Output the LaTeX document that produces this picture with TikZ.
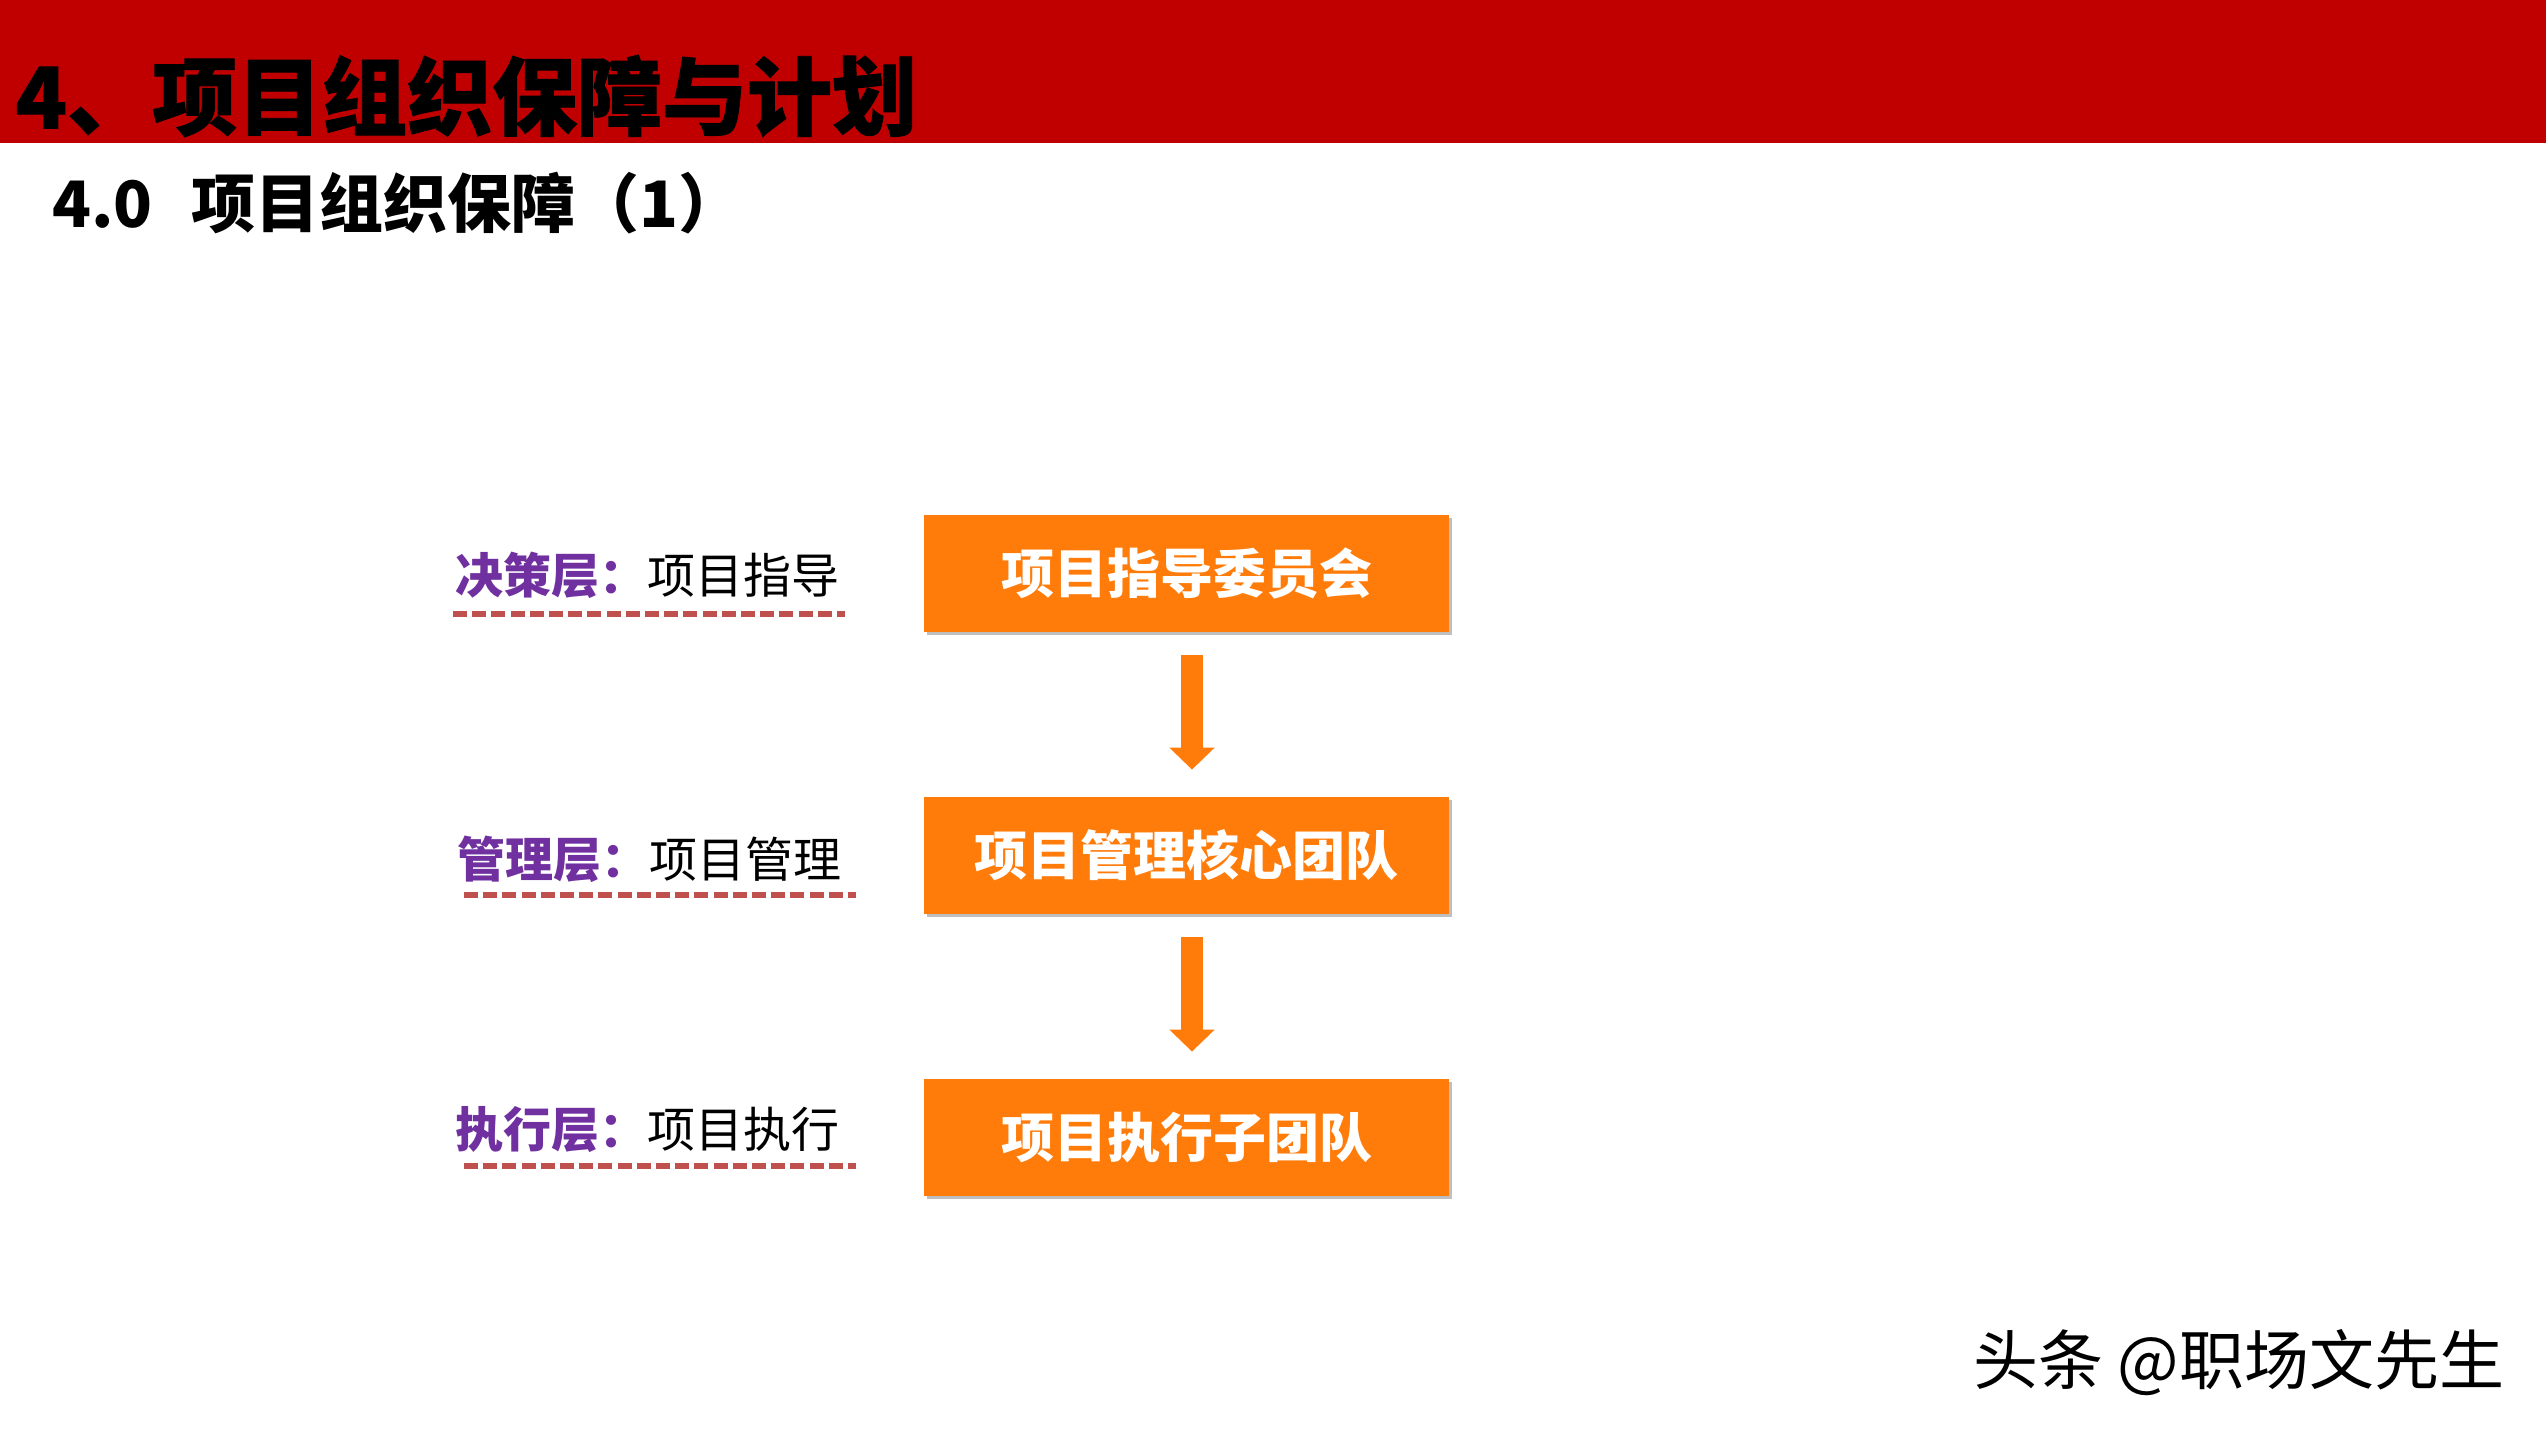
\documentclass[tikz,border=0pt]{standalone}
\usepackage{fontspec}
\setmainfont{Noto Sans CJK SC}
\usetikzlibrary{arrows.meta,shadows}
\definecolor{bandred}{HTML}{C00000}
\definecolor{boxorange}{HTML}{FF7C0A}
\definecolor{layerpurple}{HTML}{7030A0}
\definecolor{dashred}{HTML}{C0504D}
\begin{document}
\begin{tikzpicture}[x=0.5pt,y=-0.5pt,
  box/.style={fill=boxorange, minimum width=262.5pt, minimum height=58.5pt, inner sep=0pt, text=white,
    font=\bfseries\fontsize{26.5pt}{30pt}\selectfont,
    drop shadow={shadow xshift=1.5pt,shadow yshift=-1.5pt,opacity=0.25,fill=black}},
  flow/.style={draw=boxorange, line width=11pt, -{Triangle[width=22pt,length=11pt]}},
  layer/.style={anchor=west, inner sep=0pt, font=\fontsize{24pt}{28pt}\selectfont},
  uline/.style={draw=dashred, line width=2.6pt, dash pattern=on 7pt off 2.6pt}]
\useasboundingbox (0,0) rectangle (2546,1440);
\fill[bandred] (0,0) rectangle (2546,143);
\node[anchor=west,inner sep=0pt,font=\bfseries\addfontfeatures{FakeBold=1}\fontsize{42.5pt}{50pt}\selectfont] (title) at (15,96) {4、项目组织保障与计划};
\node[anchor=west,inner sep=0pt,font=\bfseries\fontsize{32pt}{38pt}\selectfont] (sub) at (52,203) {4.0\hspace{0.6em}项目组织保障（1）};
% boxes
\node[box] (b1) at (1186.5,573.5) {项目指导委员会};
\node[box] (b2) at (1186.5,855.5) {项目管理核心团队};
\node[box] (b3) at (1186.5,1137.5) {项目执行子团队};
% arrows
\draw[flow] ([xshift=2.75pt,yshift=-11.5pt]b1.south) -- ([xshift=2.75pt,yshift=13.5pt]b2.north);
\draw[flow] ([xshift=2.75pt,yshift=-11.5pt]b2.south) -- ([xshift=2.75pt,yshift=13.5pt]b3.north);
% layer labels
\node[layer] (l1) at (455,575) {\textcolor{layerpurple}{\bfseries 决策层：}项目指导};
\node[layer] (l2) at (457,859) {\textcolor{layerpurple}{\bfseries 管理层：}项目管理};
\node[layer] (l3) at (455,1130) {\textcolor{layerpurple}{\bfseries 执行层：}项目执行};
\coordinate (u1a) at (453,614); \coordinate (u1b) at (845,614);
\coordinate (u2a) at (464,895); \coordinate (u2b) at (856,895);
\coordinate (u3a) at (464,1166); \coordinate (u3b) at (856,1166);
\draw[uline] (u1a) -- (u1b);
\draw[uline] (u2a) -- (u2b);
\draw[uline] (u3a) -- (u3b);
% watermark
\node[anchor=west,inner sep=0pt,font=\fontsize{32.5pt}{38pt}\selectfont] (wm) at (1973,1363) {头条 @职场文先生};
\end{tikzpicture}
\end{document}
